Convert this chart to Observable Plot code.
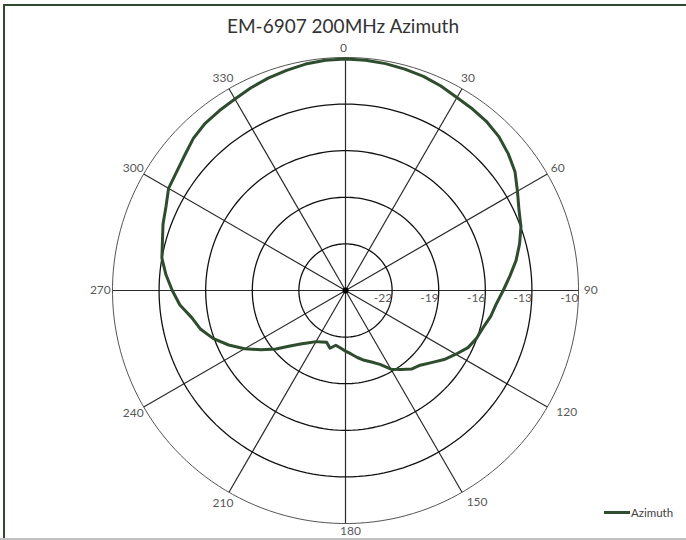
<!DOCTYPE html>
<html>
<head>
<meta charset="utf-8">
<script src="https://cdn.jsdelivr.net/npm/d3@7"></script>
<script src="https://cdn.jsdelivr.net/npm/@observablehq/plot@0.6"></script>
<style>
  html, body { margin: 0; padding: 0; background: #fff; }
  #wrap { position: relative; width: 686px; height: 540px; overflow: hidden; font-family: Lato, "Noto Sans", sans-serif; }
  #chart { position: absolute; left: 0; top: 0; }
  #title { position: absolute; left: 0; width: 686px; top: 16px; line-height: 20px; text-align: center; font-size: 19px; color: #333; }
  #legend { position: absolute; left: 604px; top: 506px; font-size: 11.5px; color: #404040; display: flex; align-items: center; }
  #legend .sw { width: 26px; height: 3px; background: #2e4d2e; margin-right: 1px; }
  #frame { position: absolute; left: 3px; top: 4px; width: 700px; height: 600px; border-top: 2px solid #2f4a2f; border-left: 2px solid #2f4a2f; pointer-events: none; }
  #bottom { position: absolute; left: 0; top: 538px; width: 686px; height: 2px; background: #c0c0c0; }
</style>
</head>
<body>
<div id="wrap">
  <div id="chart"></div>
  <div id="title">EM-6907 200MHz Azimuth</div>
  <div id="legend"><span class="sw"></span><span>Azimuth</span></div>
  <div id="frame"></div>
  <div id="bottom"></div>
</div>
<script>
// Azimuth angle (degrees, clockwise from top)
const angles = [
  0, 5, 10, 15, 20, 25, 30, 35, 40, 45, 50, 55,
  60, 65, 70, 75, 80, 85, 90, 95, 100, 105, 110, 115,
  120, 125, 130, 135, 140, 145, 150, 155, 160, 165, 170, 175,
  180, 185, 190, 195, 200, 205, 210, 215, 220, 225, 230, 235,
  240, 245, 250, 255, 260, 265, 270, 275, 280, 285, 290, 295,
  300, 305, 310, 315, 320, 325, 330, 335, 340, 345, 350, 355
];
// Gain (dB)
const gain = [
  -10.10, -10.12, -10.17, -10.25, -10.33, -10.48, -10.66, -10.74, -10.84, -11.02, -11.32, -11.68,
  -12.22, -12.68, -12.98, -13.40, -13.85, -14.38, -14.85, -15.25, -15.50, -15.82, -16.02, -16.30,
  -16.80, -17.25, -17.78, -18.20, -18.40, -18.80, -19.15, -19.75, -20.10, -20.35, -20.62, -20.90,
  -21.10, -21.28, -21.42, -21.15, -21.45, -21.35, -21.20, -20.90, -20.50, -19.95, -19.15, -18.35,
  -17.50, -16.70, -15.95, -15.35, -14.95, -14.30, -13.85, -13.40, -13.00, -12.80, -12.50, -12.25,
  -11.85, -11.72, -11.48, -11.15, -10.95, -10.86, -10.77, -10.60, -10.45, -10.33, -10.20, -10.12
];
const spokeAngles = [0, 30, 60, 90, 120, 150, 180, 210, 240, 270, 300, 330];
const ringValues = [-22, -19, -16, -13, -10];
const rMin = -25, rMax = -10;
const span = rMax - rMin;

const data = angles.map((a, i) => ({angle: a, gain: gain[i]}));
const lon = (a) => 180 - a;            // clockwise from top
const lat = (v) => 90 - (v - rMin);     // centre = rMin
const labelPad = 0.78;                  // in degrees of the projected sphere

const chart = Plot.plot({
  width: 686,
  height: 540,
  marginLeft: 112,
  marginRight: 108,
  marginTop: 57,
  marginBottom: 17,
  style: {fontFamily: "Lato, 'Noto Sans', sans-serif", fontSize: "12px", background: "transparent", color: "#595959", overflow: "visible"},
  projection: {
    type: "azimuthal-equidistant",
    rotate: [0, -90],
    clip: false,
    domain: d3.geoCircle().center([0, 90]).radius(span)()
  },
  marks: [
    Plot.link(spokeAngles, {x1: (a) => lon(a), y1: 90, x2: (a) => lon(a), y2: lat(rMax), stroke: "#2a2a2a", strokeWidth: 1.2}),
    Plot.geo(ringValues.filter((v) => v < rMax), {
      geometry: (v) => d3.geoCircle().center([0, 90]).radius(v - rMin)(),
      fill: "none", stroke: "#111", strokeWidth: 1.3
    }),
    Plot.geo([rMax], {
      geometry: (v) => d3.geoCircle().center([0, 90]).radius(v - rMin)(),
      fill: "none", stroke: "#555", strokeWidth: 1
    }),
    Plot.dot([0], {x: 0, y: 90, r: 3, fill: "#000", stroke: "none"}),
    Plot.line(data, {x: (d) => lon(d.angle), y: (d) => lat(d.gain), curve: "linear-closed", stroke: "#2e4d2e", strokeWidth: 3, strokeLinejoin: "round"}),
    Plot.text(spokeAngles.filter((a) => a > 0 && (a < 120 || a > 180)), {
      x: (a) => lon(a), y: lat(rMax) - labelPad, text: (a) => String(a), fill: "#595959"
    }),
    Plot.text(spokeAngles.filter((a) => a === 0), {
      x: (a) => lon(a), y: lat(rMax) - labelPad, text: (a) => String(a), fill: "#595959", dx: -2, dy: 3
    }),
    Plot.text(spokeAngles.filter((a) => a >= 120 && a <= 150), {
      x: (a) => lon(a), y: lat(rMax) - labelPad, text: (a) => String(a), fill: "#595959", dx: 9, dy: -1
    }),
    Plot.text(spokeAngles.filter((a) => a === 180), {
      x: (a) => lon(a), y: lat(rMax) - labelPad, text: (a) => String(a), fill: "#595959", dx: 5, dy: -4
    }),
    Plot.text(ringValues, {
      x: lon(90), y: (v) => lat(v), text: (v) => String(v), textAnchor: "end", dx: 0, dy: 8, fill: "#595959"
    })
  ]
});
document.getElementById("chart").appendChild(chart);
</script>
</body>
</html>
